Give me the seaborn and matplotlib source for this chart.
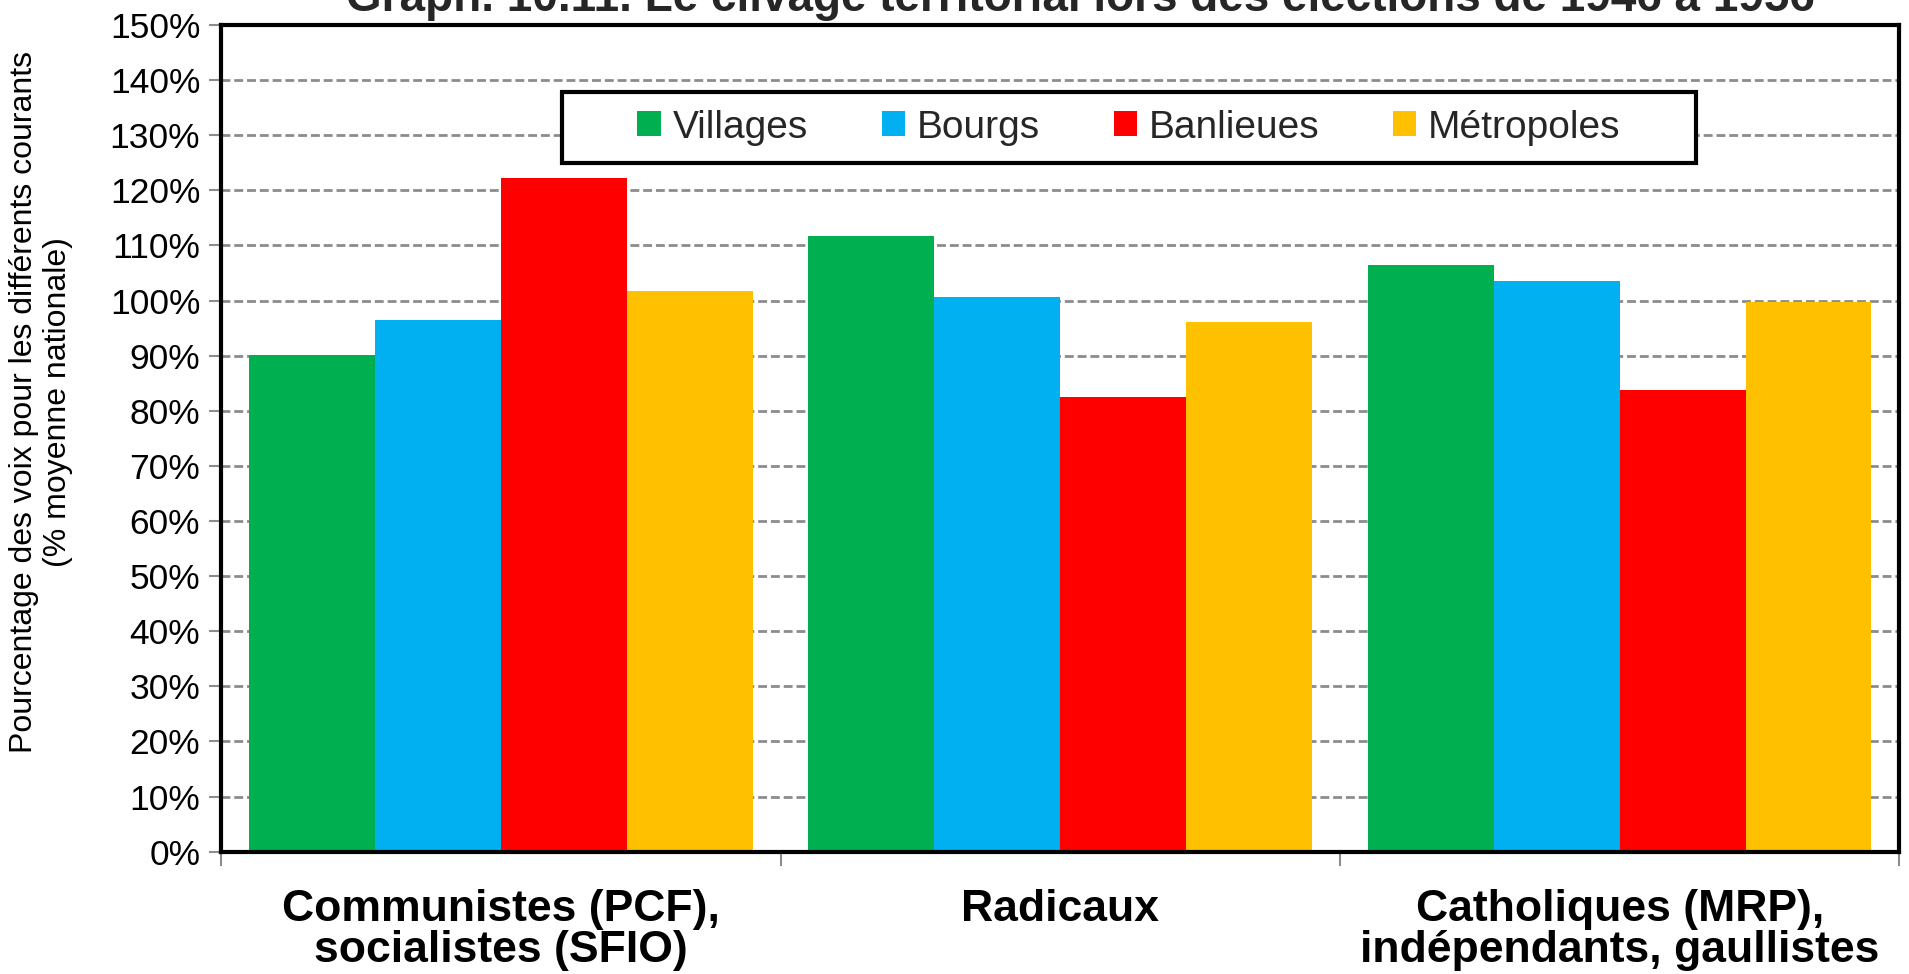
import matplotlib
matplotlib.use("Agg")
import matplotlib.pyplot as plt
import seaborn as sns
import pandas as pd
from matplotlib.ticker import FixedLocator
from matplotlib.patches import Rectangle

categories = ["Communistes (PCF),\nsocialistes (SFIO)", "Radicaux",
              "Catholiques (MRP),\nindépendants, gaullistes"]
series = ["Villages", "Bourgs", "Banlieues", "Métropoles"]
villages = [90.1, 111.7, 106.5]
bourgs = [96.5, 100.7, 103.5]
banlieues = [122.3, 82.5, 83.8]
metropoles = [101.8, 96.1, 99.7]
colors = ["#00B050", "#00B0F0", "#FF0000", "#FFC000"]
yticks = list(range(0, 151, 10))
title = "Graph. 10.11. Le clivage territorial lors des élections de 1946 à 1956"
ylabel = "Pourcentage des voix pour les différents courants\n(% moyenne nationale)"

rows = []
for s, vals in zip(series, [villages, bourgs, banlieues, metropoles]):
    for c, v in zip(categories, vals):
        rows.append({"cat": c, "serie": s, "val": v})
df = pd.DataFrame(rows)

sns.set_style("white")
plt.rcParams['font.family'] = ['Liberation Sans', 'DejaVu Sans']

fig = plt.figure(figsize=(19.09, 9.74), dpi=100)
ax = fig.add_axes([0.1158, 0.1256, 0.995 - 0.1158, 0.9743 - 0.1256])

sns.barplot(data=df, x="cat", y="val", hue="serie", order=categories,
            hue_order=series, palette=colors, width=0.9, linewidth=0,
            saturation=1, ax=ax)

ax.set_ylim(0, 150)
ax.set_xlim(-0.5, 2.5)
ax.set_yticks(yticks)
ax.set_yticklabels([f"{t}%" for t in yticks], fontsize=25.5, color="black")
ax.yaxis.grid(True, color="#8c8c8c", linewidth=2, linestyle=(0, (3.2, 1.4)))
ax.set_axisbelow(True)
ax.tick_params(axis="y", length=9, width=1.5, color="#8c8c8c", pad=6, left=True)

ax.set_xticks(range(len(categories)))
ax.set_xticklabels(categories, fontsize=32, fontweight="bold", color="black",
                   linespacing=1.0)
ax.tick_params(axis="x", which="major", length=0, pad=27)
ax.xaxis.set_minor_locator(FixedLocator([-0.5, 0.5, 1.5, 2.5]))
ax.tick_params(axis="x", which="minor", length=10, width=1.5, color="#8c8c8c", bottom=True)

ax.set_xlabel("")
ax.set_ylabel("")
fig.text(41 / 1909, 1 - 402 / 974, ylabel, rotation=90, ha="center",
         va="center", fontsize=23, linespacing=1.15, color="black",
         multialignment="center")

for sp in ax.spines.values():
    sp.set_visible(True)
    sp.set_color("black")
    sp.set_linewidth(3)

handles, labels = ax.get_legend_handles_labels()
if ax.get_legend() is not None:
    ax.get_legend().remove()
leg = ax.legend(handles, labels, ncol=4, loc="center",
                bbox_to_anchor=(0.541, 0.876), fontsize=28, frameon=False,
                handlelength=0.6, handleheight=0.6, handletextpad=0.3,
                columnspacing=1.9, borderpad=0, borderaxespad=0)
ax.add_patch(Rectangle((0.2032, 0.833), 0.879 - 0.2032, 0.919 - 0.833,
                       transform=ax.transAxes, facecolor="white",
                       edgecolor="black", linewidth=3, zorder=4))
leg.set_zorder(5)

fig.text(0.566, 1 - 11 / 974, title, ha="center", va="baseline", fontsize=33,
         fontweight="bold")

fig.savefig("out.png", dpi=100)
